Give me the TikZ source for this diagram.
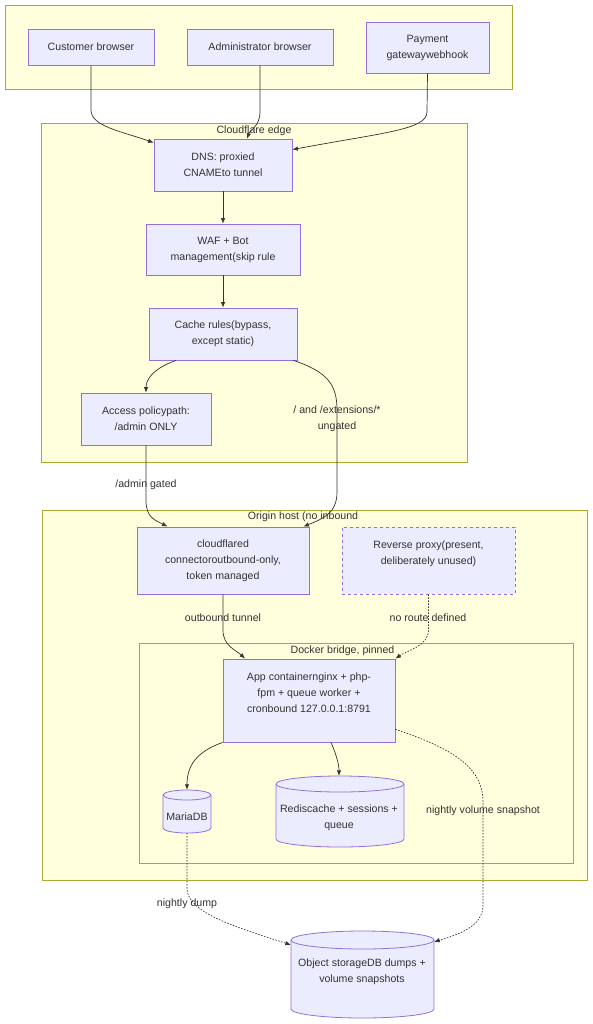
\documentclass[tikz,border=0pt]{standalone}
\usepackage{fontspec}
\setmainfont{Liberation Sans}
\usetikzlibrary{arrows.meta}
\definecolor{nodefill}{HTML}{ECECFF}
\definecolor{nodeline}{HTML}{9370DB}
\definecolor{clfill}{HTML}{FFFFDE}
\definecolor{clline}{HTML}{AAAA33}
\definecolor{txt}{HTML}{333333}
\definecolor{edgec}{HTML}{333333}
\newcommand{\dbcyl}[5]{%
  \pgfmathsetmacro{\rxx}{(#2-#1)/2}%
  \filldraw[draw=nodeline, fill=nodefill, line width=0.8pt] (#1,#3+#5) -- (#1,#4-#5)
    arc[start angle=180,end angle=360,x radius=\rxx pt,y radius=#5pt] -- (#2,#3+#5)
    arc[start angle=0,end angle=180,x radius=\rxx pt,y radius=#5pt] -- cycle;
  \draw[draw=nodeline, line width=0.8pt] (#1,#3+#5)
    arc[start angle=180,end angle=360,x radius=\rxx pt,y radius=#5pt];
}
\begin{document}
\begin{tikzpicture}[x=1pt,y=-1pt,
  every node/.style={text=txt, font=\fontsize{10.6}{16}\selectfont},
  cluster/.style={draw=clline, fill=clfill, line width=0.8pt, inner sep=0, anchor=north west},
  box/.style={draw=nodeline, fill=nodefill, line width=0.8pt, align=center, inner sep=0},
  lbl/.style={align=center, inner sep=0},
  flow/.style={draw=edgec, line width=0.7pt, -{Latex[length=5.5pt,width=4.5pt]}},
  dots/.style={flow, dash pattern=on 1.5pt off 1.5pt},
]
\useasboundingbox[fill=white] (0,0) rectangle (592,1024);

% clusters
\node[cluster, minimum width=507pt, minimum height=84pt] (topc) at (5,5) {};
\node[cluster, minimum width=426pt, minimum height=339pt] (cfe) at (41,123) {};
\node[cluster, minimum width=545pt, minimum height=370pt] (orig) at (42,510) {};
\node[cluster, minimum width=434pt, minimum height=220pt] (dock) at (139,643) {};
\node[lbl] (cfet) at (254,131) {Cloudflare edge};
\node[lbl] (origt) at (303,517) {Origin host (no inbound};
\node[lbl] (dockt) at (342.5,651) {Docker bridge, pinned};

% boxes
\node[box, minimum width=126pt, minimum height=36pt] (cust) at (91,47) {Customer browser};
\node[box, minimum width=146pt, minimum height=36pt] (admin) at (260,47) {Administrator browser};
\node[box, minimum width=123pt, minimum height=51pt] (pay) at (427.5,47.5) {Payment\\gatewaywebhook};
\node[box, minimum width=138pt, minimum height=52pt] (dns) at (223,165) {DNS: proxied\\CNAMEto tunnel};
\node[box, minimum width=154pt, minimum height=51pt] (waf) at (223,249.5) {WAF + Bot\\management(skip rule};
\node[box, minimum width=148pt, minimum height=52pt] (cache) at (223,334) {Cache rules(bypass,\\except static)};
\node[box, minimum width=130pt, minimum height=52pt] (access) at (146,419) {Access policypath:\\/admin ONLY};
\node[box, minimum width=172pt, minimum height=67pt] (cfd) at (223,560.5) {cloudflared\\connectoroutbound-only,\\token managed};
\node[box, dash pattern=on 3pt off 3pt, minimum width=173pt, minimum height=67pt] (rp) at (428.5,560.5) {Reverse proxy(present,\\deliberately unused)\\\mbox{}};
\node[box, minimum width=172pt, minimum height=83pt] (app) at (309,700.5) {App containernginx + php-\\fpm + queue worker +\\cronbound 127.0.0.1:8791\\\mbox{}};

% cylinders
\dbcyl{163}{211}{790}{833}{5}
\dbcyl{276}{404}{776}{847}{8}
\dbcyl{291}{434}{931}{1018}{9}
\node[inner sep=0, minimum width=48pt, minimum height=43pt] (maria) at (187,811.5) {};
\node[inner sep=0, minimum width=128pt, minimum height=71pt] (redis) at (340,811.5) {};
\node[inner sep=0, minimum width=143pt, minimum height=87pt] (objst) at (362.5,974.5) {};
\node[lbl] (mariat) at (187,817) {MariaDB};
\node[lbl] (redist) at (339,818) {Rediscache + sessions +\\queue};
\node[lbl] (objstt) at (362,972) {Object storageDB dumps +\\volume snapshots};

% edges
\draw[flow] (cust.south) -- (91,110) .. controls (91,126) and (120,131) .. ([yshift=-4pt]dns.north west);
\draw[flow] (admin.south) -- (260,112) .. controls (260,126) and (250,130) .. ([xshift=24pt]dns.north);
\draw[flow] (pay.south) -- (427,112) .. controls (427,130) and (380,133) .. ([yshift=-11pt]dns.north east);
\draw[flow] (dns.south) -- (waf.north);
\draw[flow] (waf.south) -- (cache.north);
\draw[flow] ([xshift=-47pt]cache.south) .. controls (152,369) and (146,380) .. (access.north);
\draw[flow] ([xshift=-4pt]cache.south east) .. controls (328,372) and (337,385) .. (337,410) -- (337,492) .. controls (337,514) and (322,519) .. ([xshift=-6pt]cfd.north east);
\draw[flow] (access.south) -- (146,500) .. controls (146,518) and (155,520) .. ([xshift=-55.5pt]cfd.north);
\draw[flow] (cfd.south) -- (223,630) .. controls (223,646) and (236,650) .. ([xshift=-64pt]app.north);
\draw[dots] (rp.south) -- (428.5,630) .. controls (428.5,646) and (408,650) .. (app.north east);
\draw[flow] (app.south west) .. controls (196,752) and (187,766) .. (maria.north);
\draw[flow] ([xshift=22pt]app.south) .. controls (336,754) and (339,764) .. ([xshift=-1pt]redis.north);
\draw[dots] ([yshift=13pt]app.south east) .. controls (458,750) and (483,770) .. (483,802) -- (483,905) .. controls (483,926) and (460,934) .. ([yshift=-11pt]objst.north east);
\draw[dots] (maria.south) -- (187,888) .. controls (187,912) and (232,926) .. ([yshift=-14pt]objst.north west);

% edge labels
\node[lbl] (l1) at (337,418.5) {/ and /extensions/*\\ungated};
\node[lbl] (l2) at (146,485) {/admin gated};
\node[lbl] (l3) at (223,618) {outbound tunnel};
\node[lbl] (l4) at (428,618) {no route defined};
\node[lbl] (l5) at (483,811) {nightly volume snapshot};
\node[lbl] (l6) at (187,904) {nightly dump};
\end{tikzpicture}
\end{document}
